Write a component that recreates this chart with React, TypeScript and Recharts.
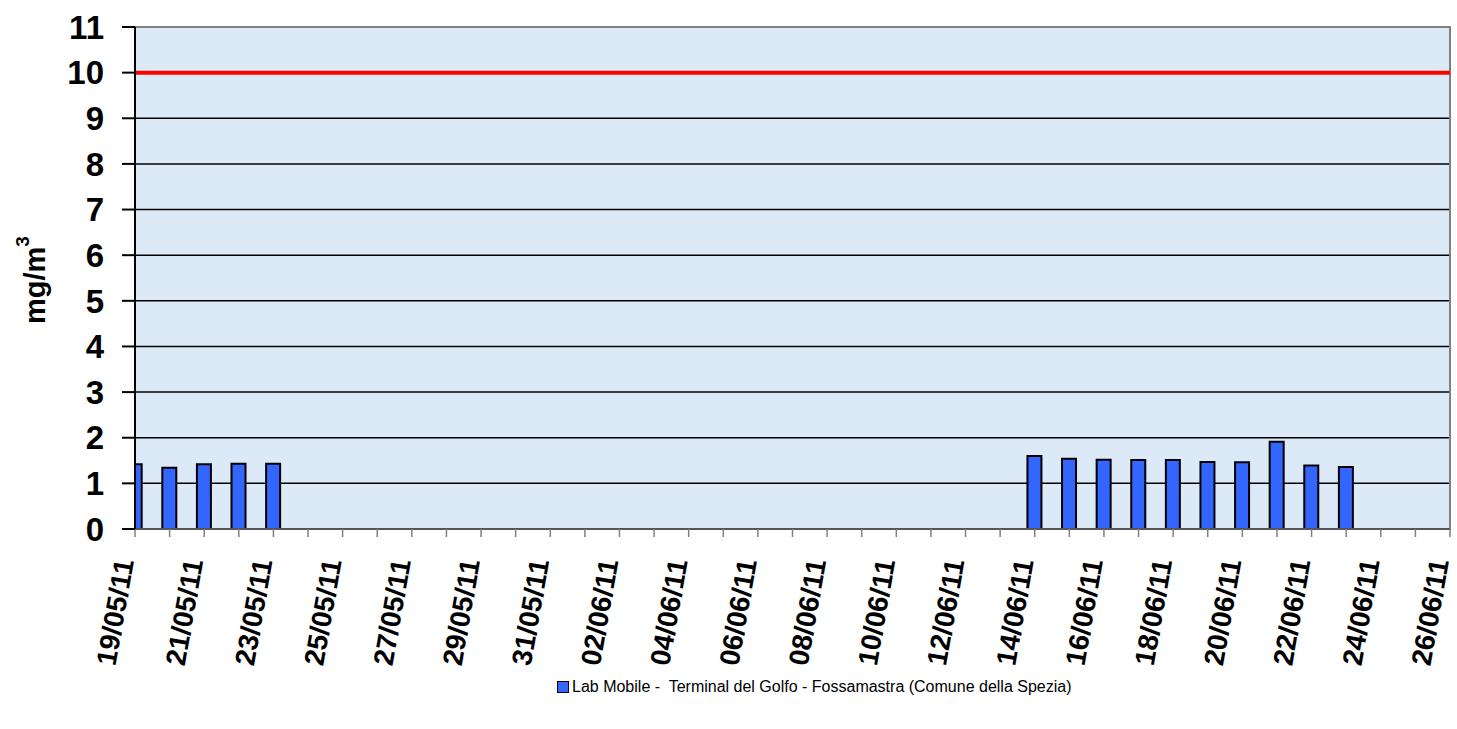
import { BarChart, Bar, XAxis, YAxis, CartesianGrid, ReferenceLine, ReferenceArea, Legend } from 'recharts';

const days = [
  '19/05/11', '20/05/11', '21/05/11', '22/05/11', '23/05/11', '24/05/11', '25/05/11', '26/05/11',
  '27/05/11', '28/05/11', '29/05/11', '30/05/11', '31/05/11', '01/06/11', '02/06/11', '03/06/11',
  '04/06/11', '05/06/11', '06/06/11', '07/06/11', '08/06/11', '09/06/11', '10/06/11', '11/06/11',
  '12/06/11', '13/06/11', '14/06/11', '15/06/11', '16/06/11', '17/06/11', '18/06/11', '19/06/11',
  '20/06/11', '21/06/11', '22/06/11', '23/06/11', '24/06/11', '25/06/11', '26/06/11',
];

// mg/m3, null = no measurement
const values: (number | null)[] = [
  1.42, 1.34, 1.42, 1.43, 1.43, null, null, null,
  null, null, null, null, null, null, null, null,
  null, null, null, null, null, null, null, null,
  null, null, 1.6, 1.54, 1.52, 1.51, 1.51, 1.47,
  1.46, 1.91, 1.39, 1.36, null, null, null,
];

const yTicks = [0, 1, 2, 3, 4, 5, 6, 7, 8, 9, 10, 11];
const limitValue = 10;
const seriesName = 'Lab Mobile -  Terminal del Golfo - Fossamastra (Comune della Spezia)';

const data = days.map((day, i) => ({ idx: i, day, value: values[i] }));
const xTicks = days.map((_, i) => i);

const FONT = 'Arial, "Liberation Sans", sans-serif';

function DateTick(props: any) {
  const { x, y, payload } = props;
  if (payload.value % 2 !== 0) return null;
  return (
    <text
      transform={`translate(${x - 1},${y + 24}) rotate(-80)`}
      textAnchor="end"
      fontSize={28}
      fontWeight="bold"
      fontFamily={FONT}
      fill="#000"
    >
      {days[payload.value]}
    </text>
  );
}

function UnitLabel(props: any) {
  const vb = props.viewBox || { y: 27, height: 502 };
  const cy = vb.y + vb.height / 2 + 2;
  return (
    <text
      transform={`translate(45,${cy}) rotate(-90)`}
      textAnchor="middle"
      fontSize={29}
      fontWeight="bold"
      fontFamily={FONT}
      fill="#000"
    >
      mg/m<tspan fontSize={19} dy={-16}>3</tspan>
    </text>
  );
}

function LegendBox(props: any) {
  const item = (props.payload || [])[0];
  return (
    <div style={{ display: 'flex', alignItems: 'center', fontFamily: FONT, fontSize: 16, color: '#000' }}>
      <span style={{ width: 10, height: 10, background: item?.color ?? '#3366FF', border: '1px solid #000', marginRight: 3 }} />
      <span style={{ whiteSpace: 'pre' }}>{item?.value ?? seriesName}</span>
    </div>
  );
}

export default function App() {
  return (
    <div style={{ position: 'absolute', left: 0, top: 0, background: '#fff' }}>
      <BarChart width={1457} height={729} data={data} margin={{ top: 27, right: 7, bottom: 11, left: 0 }}>
        <CartesianGrid vertical={false} stroke="#000" strokeWidth={1.5} fill="#DCEAF8" fillOpacity={1} />
        <ReferenceArea x1={0} x2={38} y1={0} y2={11} fill="none" stroke="#808080" strokeWidth={2} ifOverflow="visible" />
        <XAxis
          dataKey="idx"
          type="number"
          domain={[0, 38]}
          ticks={xTicks}
          interval={0}
          allowDataOverflow
          height={149}
          tickSize={8}
          tickMargin={0}
          tickLine={{ stroke: '#808080', strokeWidth: 1.5 }}
          axisLine={{ stroke: '#555', strokeWidth: 2 }}
          tick={<DateTick />}
        />
        <YAxis
          domain={[0, 11]}
          ticks={yTicks}
          interval={0}
          width={135}
          tickSize={13}
          tickMargin={18}
          axisLine={{ stroke: '#000', strokeWidth: 2 }}
          tickLine={{ stroke: '#000', strokeWidth: 2 }}
          tick={{ fontSize: 33, fontWeight: 'bold', fontFamily: FONT, fill: '#000' }}
          label={<UnitLabel />}
        />
        <Bar
          dataKey="value"
          name={seriesName}
          fill="#3366FF"
          stroke="#000"
          strokeWidth={2}
          barSize={14}
          isAnimationActive={false}
        />
        <ReferenceLine y={limitValue} stroke="#FF0000" strokeWidth={4} ifOverflow="visible" />
        <Legend
          verticalAlign="bottom"
          content={<LegendBox />}
          wrapperStyle={{ height: 40, left: 557, width: 'auto' }}
        />
      </BarChart>
    </div>
  );
}
